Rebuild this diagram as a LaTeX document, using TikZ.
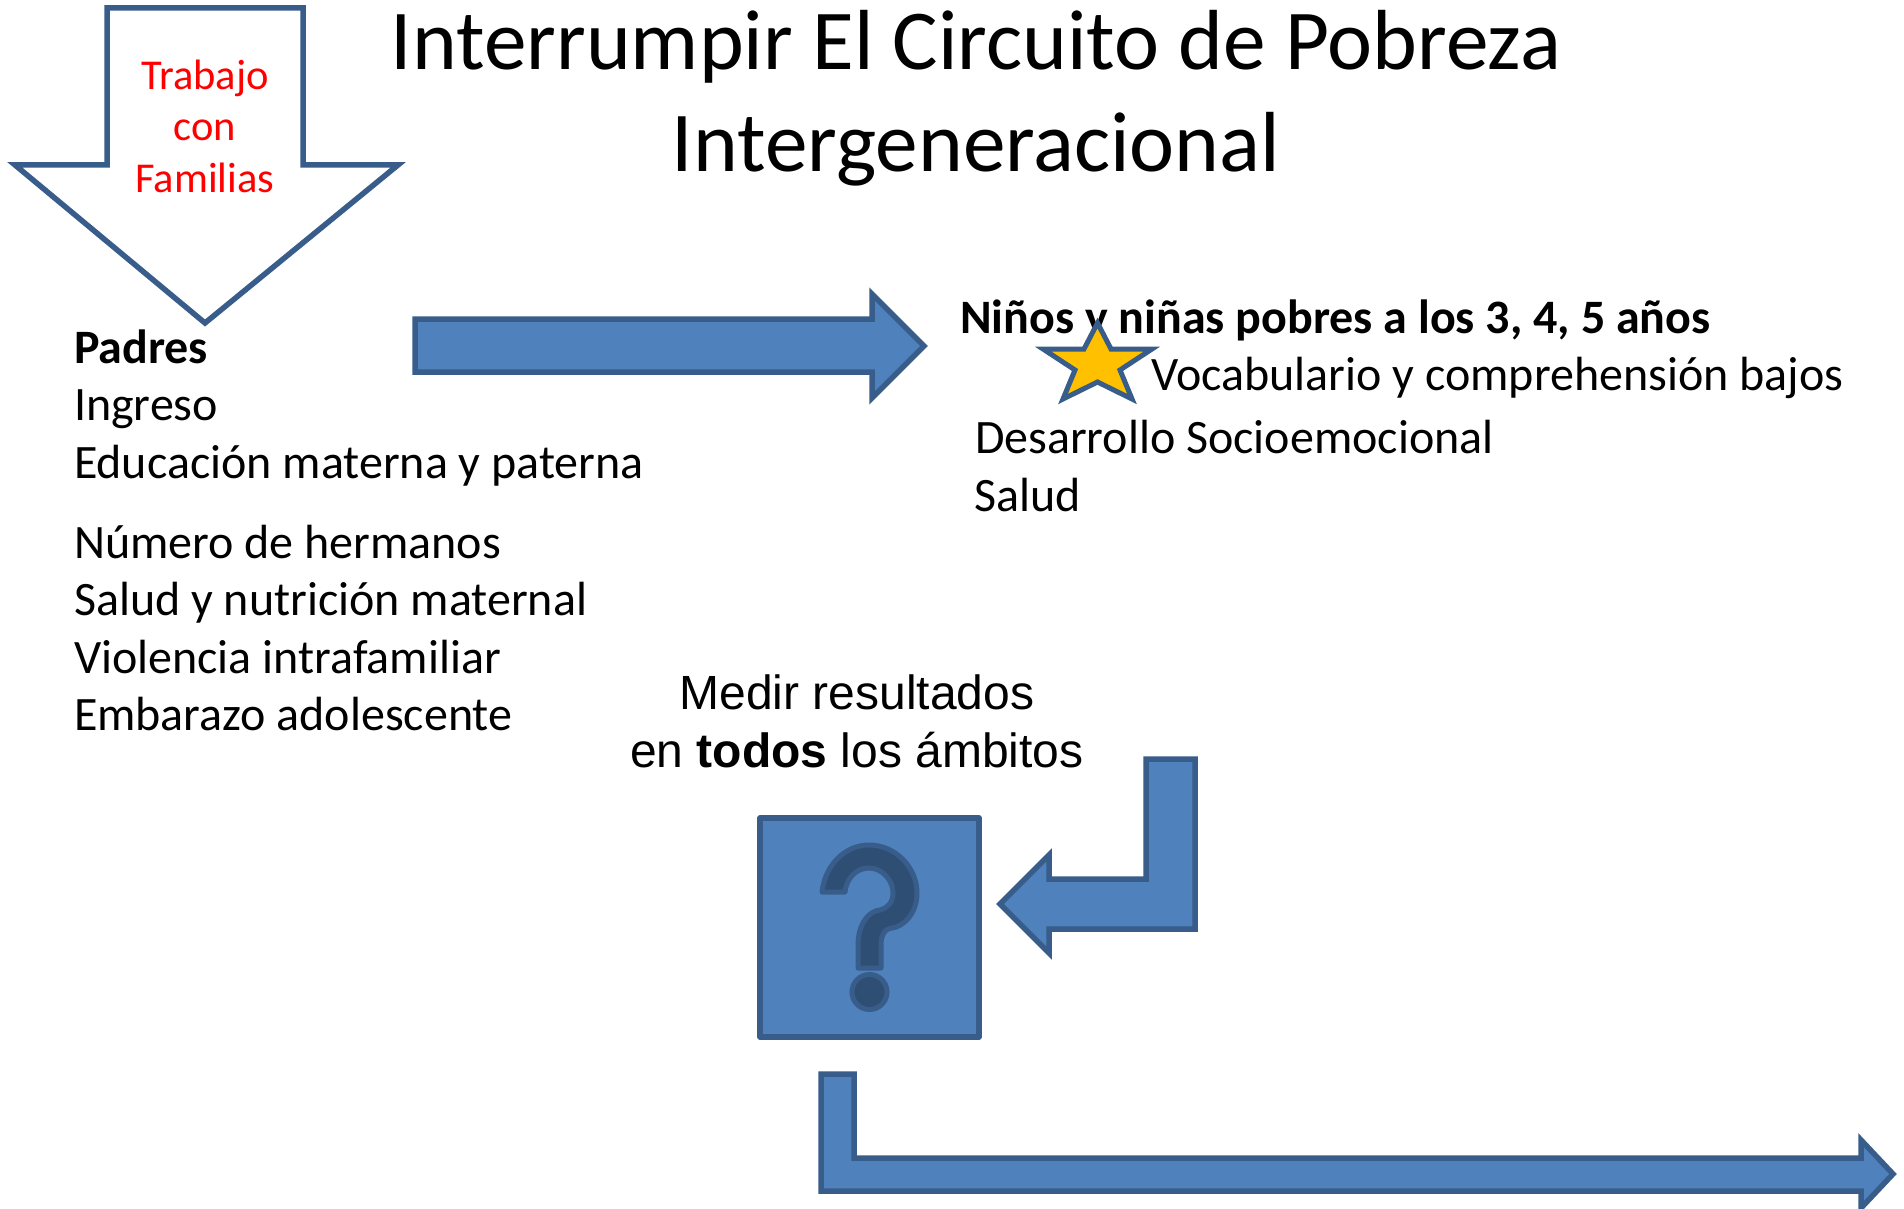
\documentclass[tikz,border=0pt]{standalone}
\usepackage{fontspec}
\setmainfont{Carlito}
\newfontfamily\arialfont{Liberation Sans}
\definecolor{fillblue}{HTML}{4F81BD}
\definecolor{edgeblue}{HTML}{385D8A}
\definecolor{qdark}{HTML}{2F4E74}
\definecolor{qedge}{HTML}{385D8A}
\definecolor{stargold}{HTML}{FFC000}
\tikzset{
  x=1pt,y=-1pt,
  blueshape/.style={draw=edgeblue,fill=fillblue,line width=5.5pt,miter limit=10},
  outlineshape/.style={draw=edgeblue,fill=white,line width=5.5pt,miter limit=10},
  qmark/.style={draw=qedge,fill=qdark,line width=5pt,line join=round},
  txt/.style={anchor=base west,inner sep=0pt,outer sep=0pt,font=\fontsize{48}{57}\selectfont},
  redtxt/.style={anchor=base,inner sep=0pt,outer sep=0pt,text=red,font=\fontsize{42.5}{50}\selectfont},
  titletxt/.style={anchor=base,inner sep=0pt,outer sep=0pt,font=\fontsize{85.3}{100}\selectfont},
  armtxt/.style={anchor=base,inner sep=0pt,outer sep=0pt,font=\arialfont\fontsize{48}{57}\selectfont}
}
\begin{document}
\begin{tikzpicture}
\useasboundingbox (0,0) rectangle (1904,1209);
\clip (0,0) rectangle (1904,1209);
% title
\node[titletxt] (t1) at (976,70) {Interrumpir El Circuito de Pobreza};
\node[titletxt] (t2) at (976,172) {Intergeneracional};
% down arrow
\draw[outlineshape] (107,8) -- (303,8) -- (303,165) -- (398,165) -- (205,323) -- (15,165) -- (107,165) -- cycle;
\node[redtxt] (f1) at (205,90) {Trabajo};
\node[redtxt] (f2) at (205,141) {con};
\node[redtxt] (f3) at (205,193) {Familias};
% left text
\node[txt] (a1) at (74,363) {\textbf{Padres}};
\node[txt] (a2) at (74,420) {Ingreso};
\node[txt] (a3) at (74,478) {Educación materna y paterna};
\node[txt] (a4) at (74,558) {Número de hermanos};
\node[txt] (a5) at (74,615) {Salud y nutrición maternal};
\node[txt] (a6) at (74,673) {Violencia intrafamiliar};
\node[txt] (a7) at (74,730) {Embarazo adolescente};
% right arrow
\draw[blueshape] (415,319) -- (872,319) -- (872,294) -- (924,346) -- (872,398) -- (872,372) -- (415,372) -- cycle;
% right text
\node[txt] (b1) at (960,333) {\textbf{Niños y niñas pobres a los 3, 4, 5 años}};
\node[txt] (b2) at (1151,390) {Vocabulario y comprehensión bajos};
\node[txt] (b3) at (975,453) {Desarrollo Socioemocional};
\node[txt] (b4) at (974,511) {Salud};
% star
\draw[draw=edgeblue,fill=stargold,line width=5pt,miter limit=10]
 (1097.5,323) -- (1111,349) -- (1152,349) -- (1120,370) -- (1132,399) -- (1097.5,382) -- (1063,399) -- (1075,370) -- (1043,349) -- (1084,349) -- cycle;
% measure text
\node[armtxt] (m1) at (857,709) {Medir resultados};
\node[armtxt] (m2) at (857,767) {en \textbf{todos} los ámbitos};
% square
\draw[blueshape,line join=round] (760,818) rectangle (979,1037);
% question mark
\draw[qmark] (822,892) .. controls (825,865) and (845,845) .. (869,845)
 .. controls (896,845) and (917,868) .. (917,893)
 .. controls (917,915) and (902,927) .. (892,928)
 .. controls (882,929) and (881,940) .. (881,945)
 -- (881,968) -- (858,968) -- (858,945)
 .. controls (858,925) and (868,911) .. (880,910)
 .. controls (888,908) and (893,902) .. (893,893)
 .. controls (893,880) and (882,868) .. (869,868)
 .. controls (855,868) and (846,880) .. (845,892) -- cycle;
\node[circle,draw=qedge,fill=qdark,line width=5pt,minimum size=35pt,inner sep=0pt] (dot) at (869.5,992) {};
% bent arrow 1
\draw[blueshape] (1146,759) -- (1195,759) -- (1195,929) -- (1049,929) -- (1049,953) -- (1000,904) -- (1049,855) -- (1049,879) -- (1146,879) -- cycle;
% bottom arrow
\draw[blueshape] (821,1074) -- (854,1074) -- (854,1158) -- (1861,1158) -- (1861,1140) -- (1893,1174) -- (1861,1208) -- (1861,1191) -- (821,1191) -- cycle;
\end{tikzpicture}
\end{document}
